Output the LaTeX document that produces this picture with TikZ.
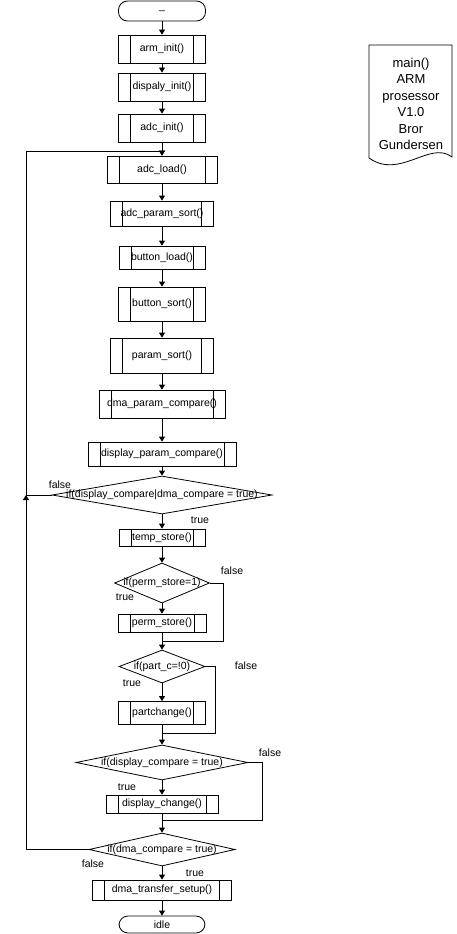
\documentclass[tikz,border=0pt]{standalone}
\usepackage{fontspec}
\setmainfont{Liberation Sans}
\usepackage{tikz}
\usetikzlibrary{shapes.geometric,arrows.meta}

\tikzset{
  subproc/.style={draw, rectangle, inner sep=0pt,
    path picture={
      \draw ([xshift=12pt]path picture bounding box.north west) -- ([xshift=12pt]path picture bounding box.south west)
            ([xshift=-12pt]path picture bounding box.north east) -- ([xshift=-12pt]path picture bounding box.south east);
    }},
  terminal/.style={draw, rectangle, rounded corners=9pt, inner sep=0pt},
  decision/.style={draw, diamond, inner sep=0pt},
}

\begin{document}
\begin{tikzpicture}[x=1pt, y=-1pt, line width=0.8pt,
    font=\fontsize{10.5}{12}\selectfont,
    >={Triangle[width=6pt,length=5pt]}]
  \useasboundingbox (0,0) rectangle (456,934);

  % Start
  \node[terminal, minimum width=87, minimum height=20] (start) at (162,11) {\_};

  % Init calls
  \node[subproc, minimum width=87, minimum height=28] (arminit) at (162,49) {arm\_init()};
  \node[subproc, minimum width=87, minimum height=28] (dispinit) at (162,87) {dispaly\_init()};
  \node[subproc, minimum width=87, minimum height=28] (adcinit) at (162,128) {adc\_init()};

  % Main loop
  \node[subproc, minimum width=110, minimum height=27] (adcload) at (162,169.5) {adc\_load()};
  \node[subproc, minimum width=103, minimum height=25] (adcsort) at (162,213.5) {adc\_param\_sort()};
  \node[subproc, minimum width=86, minimum height=23] (btnload) at (162,257.5) {button\_load()};
  \node[subproc, minimum width=87, minimum height=34] (btnsort) at (162,304) {button\_sort()};
  \node[subproc, minimum width=103, minimum height=35] (paramsort) at (162,355.5) {param\_sort()};
  \node[subproc, minimum width=126, minimum height=28] (dmacmp) at (162,404) {dma\_param\_compare()};
  \node[subproc, minimum width=148, minimum height=24] (dispcmp) at (162,454) {display\_param\_compare()};

  % Tests
  \node[decision, minimum width=220, minimum height=38,
    label=center:{if(display\_compare|dma\_compare = true)}] (ifcmp) at (162,495) {};
  \node[subproc, minimum width=86, minimum height=17] (tempstore) at (162,537.5) {temp\_store()};
  \node[decision, minimum width=95, minimum height=40,
    label=center:{if(perm\_store=1)}] (ifperm) at (162,583) {};
  \node[subproc, minimum width=88, minimum height=18] (permstore) at (162,623) {perm\_store()};
  \node[decision, minimum width=86, minimum height=33,
    label=center:{if(part\_c=!0)}] (ifpart) at (162,666.5) {};
  \node[subproc, minimum width=87, minimum height=23] (partchg) at (162,713) {partchange()};
  \node[decision, minimum width=172, minimum height=35,
    label=center:{if(display\_compare = true)}] (ifdisp) at (162,762.5) {};
  \node[subproc, minimum width=112, minimum height=18] (dispchg) at (162,804) {display\_change()};
  \node[decision, minimum width=146, minimum height=33,
    label=center:{if(dma\_compare = true)}] (ifdma) at (162,849.5) {};

  % End
  \node[subproc, minimum width=139, minimum height=20] (dmasetup) at (162,890) {dma\_transfer\_setup()};
  \node[terminal, minimum width=86, minimum height=17] (idle) at (162,924.5) {idle};

  % Branch labels
  \node (f1) at (60,485) {false};
  \node (t1) at (200,520) {true};
  \node (f2) at (232,571) {false};
  \node (t2) at (125,597) {true};
  \node (f3) at (246,666) {false};
  \node (t3) at (132,683) {true};
  \node (f4) at (270,753) {false};
  \node (t4) at (127,787) {true};
  \node (f5) at (93,864) {false};
  \node (t5) at (195,873) {true};

  % Merge points
  \coordinate (loopx) at (26,151);
  \coordinate (m2) at (162,641);
  \coordinate (r2) at (223,641);
  \coordinate (m3) at (162,733);
  \coordinate (r3) at (215,733);
  \coordinate (m4) at (162,820);
  \coordinate (r4) at (262,820);

  % Flow
  \draw[->] (start) -- (arminit);
  \draw[->] (arminit) -- (dispinit);
  \draw[->] (dispinit) -- (adcinit);
  \draw[->] (adcinit) -- (adcload);
  \draw[->] (adcload) -- (adcsort);
  \draw[->] (adcsort) -- (btnload);
  \draw[->] (btnload) -- (btnsort);
  \draw[->] (btnsort) -- (paramsort);
  \draw[->] (paramsort) -- (dmacmp);
  \draw[->] (dmacmp) -- (dispcmp);
  \draw[->] (dispcmp) -- (ifcmp);
  \draw[->] (ifcmp) -- (tempstore);
  \draw[->] (tempstore) -- (ifperm);
  \draw[->] (ifperm) -- (permstore);
  \draw (permstore) -- (m2);
  \draw (ifperm.east) -| (r2) -- (m2);
  \draw[->] (m2) -- (ifpart);
  \draw[->] (ifpart) -- (partchg);
  \draw (partchg) -- (m3);
  \draw (ifpart.east) -| (r3) -- (m3);
  \draw[->] (m3) -- (ifdisp);
  \draw[->] (ifdisp) -- (dispchg);
  \draw (dispchg) -- (m4);
  \draw (ifdisp.east) -| (r4) -- (m4);
  \draw[->] (m4) -- (ifdma);
  \draw[->] (ifdma) -- (dmasetup);
  \draw[->] (dmasetup) -- (idle);

  % Loop back
  \draw[->] (ifdma.west) -| (loopx |- ifcmp.west);
  \draw[->] (ifcmp.west) -| (loopx) -| (adcload.north);

  % Note
  \draw (369,45) -- (452,45) -- (452,157)
    .. controls (430,140) and (400,180) .. (369,158) -- cycle;
  \node[align=center, font=\fontsize{13}{16.5}\selectfont] (note) at (411,104)
    {main()\\ARM\\prosessor\\V1.0\\Bror\\Gundersen};
\end{tikzpicture}
\end{document}
